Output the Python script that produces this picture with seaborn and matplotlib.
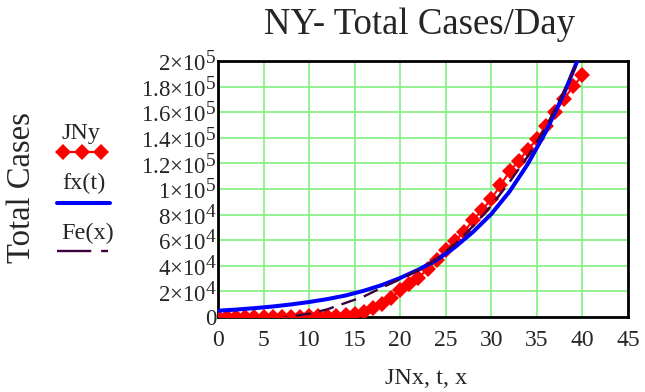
import matplotlib
matplotlib.use("Agg")
import matplotlib.pyplot as plt
import matplotlib._mathtext as _mt
import seaborn as sns
import pandas as pd
from matplotlib.lines import Line2D

# ---- data ----
days = list(range(41))
cases = [2, 11, 22, 44, 89, 106, 142, 173, 217, 326, 421, 610, 732, 950, 1700,
         2382, 4152, 7102, 10356, 15168, 20875, 25665, 30811, 37258, 44635,
         52318, 59513, 66497, 75795, 83712, 92381, 102863, 113704, 122031,
         130689, 138863, 149316, 159937, 170512, 180458, 188694]

fx_t = [0, 2, 4, 6, 8, 10, 12, 14, 16, 18, 20, 22, 24, 26, 28, 30, 32, 34, 36, 38, 40]
fx_vals = [4900, 5800, 6900, 8200, 9800, 11700, 14000, 16800, 20500, 25000, 30500,
           37000, 44500, 54500, 66500, 80500, 98000, 119500, 145000, 175000, 210000]

fe_x = [6, 8, 10, 12, 14, 16, 18, 20, 22, 24, 26, 28, 30, 32, 34, 36, 38, 40]
fe_vals = [-2500, 500, 2500, 6000, 11000, 16000, 23000, 29500, 36500, 45500,
           57000, 71000, 87000, 105500, 125500, 148500, 177000, 207000]

xticks = [0, 5, 10, 15, 20, 25, 30, 35, 40, 45]
yticks = [0, 20000, 40000, 60000, 80000, 100000, 120000, 140000, 160000, 180000, 200000]
ytick_labels = ["0", r"$2{\times}10^{4}$", r"$4{\times}10^{4}$", r"$6{\times}10^{4}$",
                r"$8{\times}10^{4}$", r"$1{\times}10^{5}$", r"$1.2{\times}10^{5}$",
                r"$1.4{\times}10^{5}$", r"$1.6{\times}10^{5}$", r"$1.8{\times}10^{5}$",
                r"$2{\times}10^{5}$"]

title = "NY- Total Cases/Day"
ylabel = "Total Cases"
xlabel = "JNx, t, x"
legend_labels = ["JNy", "fx(t)", "Fe(x)"]

# ---- style ----
sns.set_style("white")
plt.rcParams["font.family"] = ["Liberation Serif", "DejaVu Serif"]
plt.rcParams["mathtext.fontset"] = "custom"
plt.rcParams["mathtext.rm"] = "Liberation Serif"
plt.rcParams["mathtext.it"] = "Liberation Serif:italic"
plt.rcParams["mathtext.bf"] = "Liberation Serif:bold"
_mt.SHRINK_FACTOR = 0.85

W, H = 645, 392
fig = plt.figure(figsize=(W / 100, H / 100), dpi=100)
ax = fig.add_axes([218 / W, 1 - 317 / H, 410 / W, 256 / H])

red = "#FF0000"
blue = "#0000FF"
purple = "#3A0040"

df_j = pd.DataFrame({"x": days, "y": cases})
df_f = pd.DataFrame({"x": fx_t, "y": fx_vals})
df_e = pd.DataFrame({"x": fe_x, "y": fe_vals})

sns.lineplot(data=df_j, x="x", y="y", ax=ax, color=red, linewidth=1.5,
             marker="D", markersize=8, markeredgewidth=0, zorder=3)
sns.lineplot(data=df_f, x="x", y="y", ax=ax, color=blue, linewidth=2.9, zorder=4)
sns.lineplot(data=df_e, x="x", y="y", ax=ax, color=purple, linewidth=1.7, zorder=5)
ax.lines[-1].set_dashes([6.5, 3.5])

ax.set_xlim(0, 45)
ax.set_ylim(0, 200000)
ax.set_xticks(xticks)
ax.set_xticklabels([str(v) for v in xticks])
ax.set_yticks(yticks)
ax.set_yticklabels(ytick_labels)
ax.tick_params(axis="both", length=0)
ax.tick_params(axis="x", pad=9, labelsize=17)
ax.tick_params(axis="y", pad=1, labelsize=16.5)
ax.grid(True, color="#80F080", linewidth=1.2)
ax.set_axisbelow(True)
for s in ax.spines.values():
    s.set_visible(True)
    s.set_color("black")
    s.set_linewidth(2)
ax.set_xlabel("")
ax.set_ylabel("")

fig.text(419.5 / W, 1 - 25 / H, title, fontsize=26.5, ha="center", va="center")
fig.text(426 / W, 1 - 378 / H, xlabel, fontsize=17.5, ha="center", va="center")
fig.text(22 / W, 1 - 188 / H, ylabel, fontsize=23.5, rotation=90, ha="center", va="center")

# legend (labels above line samples)
fig.text(81 / W, 1 - 133 / H, legend_labels[0], fontsize=17.5, ha="center", va="center")
fig.text(84 / W, 1 - 183 / H, legend_labels[1], fontsize=17.5, ha="center", va="center")
fig.text(88 / W, 1 - 233 / H, legend_labels[2], fontsize=17.5, ha="center", va="center")
fig.add_artist(Line2D([57 / W, 107 / W], [1 - 152 / H] * 2, color=red, linewidth=1.5,
                      transform=fig.transFigure))
fig.add_artist(Line2D([63 / W, 82 / W, 101 / W], [1 - 152 / H] * 3, color=red, linestyle="none",
                      marker="D", markersize=8.5, markeredgewidth=0, transform=fig.transFigure))
fig.add_artist(Line2D([57 / W, 110 / W], [1 - 203 / H] * 2, color=blue, linewidth=2.9,
                      transform=fig.transFigure))
ln = Line2D([57 / W, 108 / W], [1 - 251 / H] * 2, color=purple, linewidth=1.7,
            transform=fig.transFigure)
ln.set_dashes([14.5, 4.2])
fig.add_artist(ln)

fig.savefig("out.png", dpi=100)
